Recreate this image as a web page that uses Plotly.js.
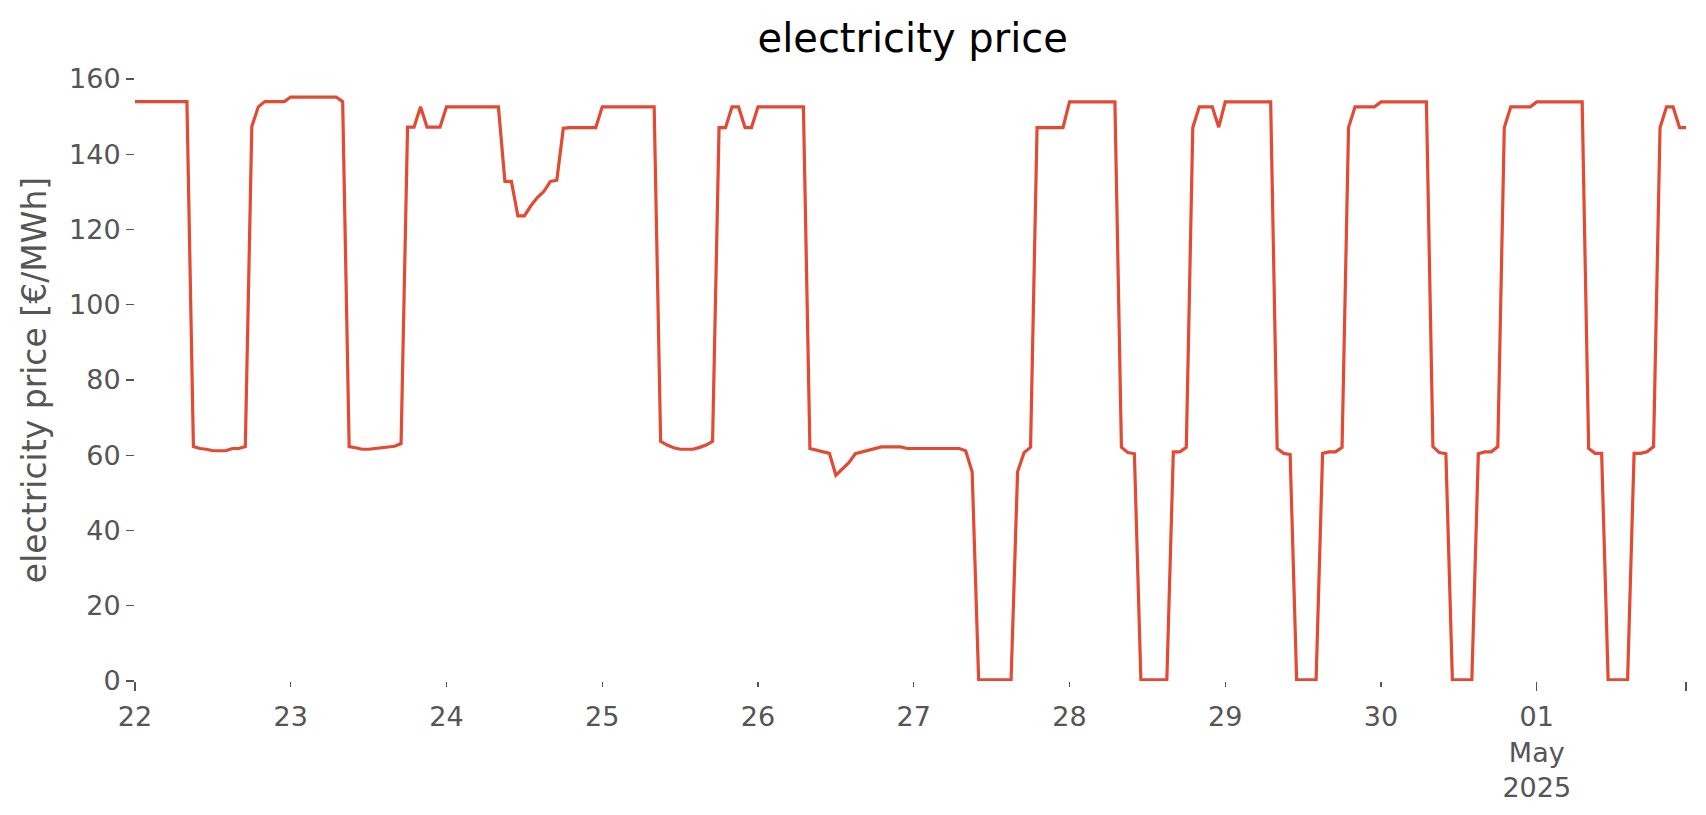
<!DOCTYPE html>
<html>
<head>
<meta charset="utf-8">
<script src="https://cdn.plot.ly/plotly-3.0.1.min.js"></script>
<style>html,body{margin:0;padding:0;background:#fff;}#chart{width:1706px;height:815px;}</style>
</head>
<body>
<div id="chart"></div>
<script>
// hourly electricity price [€/MWh], one array per day (00:00 .. 23:00)
const apr22 = [154,154,154,154,154,154,154,154,154,62.3,61.8,61.6,61.2,61.2,61.2,61.8,61.8,62.3,147.4,152.6,154,154,154,154];
const apr23 = [155.2,155.2,155.2,155.2,155.2,155.2,155.2,155.2,154,62.3,62,61.6,61.6,61.8,62.2,62.2,62.4,63.1,147.2,147.2,152.6,147.2,147.2,147.2];
const apr24 = [152.6,152.6,152.6,152.6,152.6,152.6,152.6,152.6,152.6,132.8,132.8,123.6,123.6,126.3,128.5,130.1,132.8,133.1,146.9,147.1,147.1,147.1,147.1,147.1];
const apr25 = [152.6,152.6,152.6,152.6,152.6,152.6,152.6,152.6,152.6,63.7,62.7,62,61.6,61.6,61.6,62.1,62.7,63.7,147.1,147.1,152.6,152.6,147.1,147.1];
const apr26 = [152.6,152.6,152.6,152.6,152.6,152.6,152.6,152.6,61.8,61.4,60.9,60.5,54.7,56.4,58,60.4,60.9,61.4,61.8,62.2,62.2,62.2,62.2,61.8];
const apr27 = [61.8,61.8,61.8,61.8,61.8,61.8,61.8,61.8,61.2,55.6,0.3,0.3,0.3,0.3,0.3,0.3,55.6,60.7,62.1,147.1,147.1,147.1,147.1,147.1];
const apr28 = [153.9,153.9,153.9,153.9,153.9,153.9,153.9,153.9,62.1,60.7,60.4,0.3,0.3,0.3,0.3,0.3,60.9,60.9,62.1,147.1,152.6,152.6,152.6,147.2];
const apr29 = [153.9,153.9,153.9,153.9,153.9,153.9,153.9,153.9,61.8,60.5,60.2,0.3,0.3,0.3,0.3,60.5,60.9,60.9,62.1,147.1,152.6,152.6,152.6,152.6];
const apr30 = [153.9,153.9,153.9,153.9,153.9,153.9,153.9,153.9,62.3,60.7,60.4,0.3,0.3,0.3,0.3,60.4,60.9,60.9,62.3,147.1,152.6,152.6,152.6,152.6];
const may01 = [153.9,153.9,153.9,153.9,153.9,153.9,153.9,153.9,61.8,60.5,60.5,0.3,0.3,0.3,0.3,60.5,60.5,60.9,62.3,147.1,152.6,152.6,147.1,147.1];

const days = ['2025-04-22','2025-04-23','2025-04-24','2025-04-25','2025-04-26','2025-04-27','2025-04-28','2025-04-29','2025-04-30','2025-05-01'];
const dayValues = [apr22,apr23,apr24,apr25,apr26,apr27,apr28,apr29,apr30,may01];
const dayTickText = ['22','23','24','25','26','27','28','29','30','01<br>May<br>2025'];
const yTicks = [0,20,40,60,80,100,120,140,160];

const xs = [], ys = [];
days.forEach((d, i) => {
  dayValues[i].forEach((v, h) => {
    xs.push(d + ' ' + String(h).padStart(2,'0') + ':00');
    ys.push(v);
  });
});
const xStart = xs[0], xEnd = xs[xs.length-1];

const grey = '#555555';
const font = 'DejaVu Sans, sans-serif';

const traces = [
  {x: xs, y: ys, type: 'scatter', mode: 'lines', line: {color: '#E24A33', width: 3.2}, hoverinfo: 'x+y', showlegend: false},
  {x: [], y: [], xaxis: 'x2', yaxis: 'y', type: 'scatter', mode: 'lines', showlegend: false}
];

const layout = {
  width: 1706, height: 815,
  paper_bgcolor: '#ffffff', plot_bgcolor: '#ffffff',
  margin: {l: 135, r: 20, t: 79, b: 134},
  font: {family: font, color: grey},
  title: {text: 'electricity price', font: {family: font, size: 40, color: '#000000'}, x: 0.535, xanchor: 'center', y: 0.953, yanchor: 'middle', yref: 'container'},
  xaxis: {
    type: 'date', range: [xStart, xEnd],
    tickmode: 'array', tickvals: days.concat([xEnd]), ticktext: dayTickText.concat(['']),
    ticks: 'outside', ticklen: 5, tickwidth: 1.3, tickcolor: grey, ticklabelstandoff: 7,
    tickfont: {family: font, size: 27, color: grey},
    showgrid: false, zeroline: false, showline: false, fixedrange: true, automargin: false
  },
  xaxis2: {
    type: 'date', range: [xStart, xEnd], overlaying: 'x', anchor: 'y', side: 'bottom',
    tickmode: 'array', tickvals: [xStart, days[9], xEnd], ticktext: ['', '', ''],
    ticks: 'outside', ticklen: 9, tickwidth: 1.3, tickcolor: grey,
    showgrid: false, zeroline: false, showline: false, fixedrange: true, automargin: false
  },
  yaxis: {
    range: [0, 160], tickmode: 'array', tickvals: yTicks,
    ticks: 'outside', ticklen: 8, tickwidth: 1.3, tickcolor: grey,
    tickfont: {family: font, size: 27, color: grey},
    title: {text: 'electricity price [€/MWh]', font: {family: font, size: 33, color: grey}, standoff: 12},
    showgrid: false, zeroline: false, showline: false, fixedrange: true, automargin: false
  }
};

Plotly.newPlot('chart', traces, layout, {displayModeBar: false, staticPlot: true});
</script>
</body>
</html>
